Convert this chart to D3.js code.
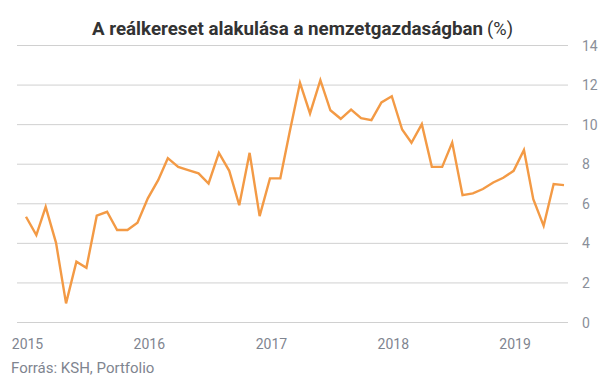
<!DOCTYPE html>
<html>
<head>
<meta charset="utf-8">
<script src="https://cdn.jsdelivr.net/npm/d3@7"></script>
<style>
  body { margin: 0; background: #fff; }
  text { font-family: Roboto, "Noto Sans", sans-serif; }
</style>
</head>
<body>
<div id="chart"></div>
<script>
// monthly real wage growth, Jan 2015 - Jun 2019
var firstMonth = "2015-01";
var values = [
  5.32, 4.39, 5.82, 4.0, 0.94, 3.05, 2.74, 5.37, 5.57, 4.65, 4.65, 5.02,
  6.25, 7.17, 8.28, 7.84, 7.68, 7.51, 7.0, 8.55, 7.64, 5.9, 8.55, 5.35,
  7.26, 7.26, 9.6, 12.09, 10.54, 12.22, 10.7, 10.27, 10.74, 10.3, 10.2, 11.1,
  11.41, 9.73, 9.06, 10.0, 7.84, 7.84, 9.07, 6.41, 6.5, 6.72, 7.05, 7.29,
  7.64, 8.69, 6.21, 4.86, 6.97, 6.92
];
var yTicks = [0, 2, 4, 6, 8, 10, 12, 14];
var yearTicks = ["2015", "2016", "2017", "2018", "2019"];
var title = "A reálkereset alakulása a nemzetgazdaságban";
var titleUnit = "(%)";
var source = "Forrás: KSH, Portfolio";

var width = 605, height = 378;
var parseMonth = d3.timeParse("%Y-%m");
var start = parseMonth(firstMonth);
var data = values.map(function(v, i) {
  return { date: d3.timeMonth.offset(start, i), value: v };
});

var svg = d3.select("#chart").append("svg")
  .attr("width", width)
  .attr("height", height);

var x = d3.scaleTime()
  .domain([start, data[data.length - 1].date])
  .range([26, 564]);

var y = d3.scaleLinear()
  .domain([0, 14])
  .range([322, 45]);

// gridlines
svg.append("g").attr("class", "grid")
  .selectAll("line").data(yTicks).enter().append("line")
  .attr("x1", 17).attr("x2", 568)
  .attr("y1", function(d) { return y(d) + 0.5; })
  .attr("y2", function(d) { return y(d) + 0.5; })
  .attr("stroke", "#d0d0d0")
  .attr("stroke-width", 1);

// right axis labels
var yAxis = d3.axisRight(y).tickValues(yTicks).tickSize(0).tickPadding(0);
svg.append("g")
  .attr("transform", "translate(582,0)")
  .call(yAxis)
  .call(function(g) { g.select(".domain").remove(); })
  .selectAll("text")
  .attr("fill", "#8a8f99")
  .attr("font-size", 14)
  .attr("dy", "0.36em");

// bottom year labels
var xAxis = d3.axisBottom(x)
  .tickValues(yearTicks.map(function(yr) { return d3.timeParse("%Y")(yr); }))
  .tickFormat(d3.timeFormat("%Y"))
  .tickSize(0).tickPadding(0);
svg.append("g")
  .attr("transform", "translate(1,349)")
  .call(xAxis)
  .call(function(g) { g.select(".domain").remove(); })
  .selectAll("text")
  .attr("fill", "#7f8590")
  .attr("font-size", 14)
  .attr("dy", 0);

// the line
var line = d3.line()
  .x(function(d) { return x(d.date); })
  .y(function(d) { return y(d.value); });

svg.append("path")
  .datum(data)
  .attr("d", line)
  .attr("fill", "none")
  .attr("stroke", "#f39a45")
  .attr("stroke-width", 2.4)
  .attr("stroke-linejoin", "miter");

// title: bold part squeezed to the condensed width, unit in regular weight
svg.append("text")
  .attr("x", 92).attr("y", 35)
  .attr("font-size", 19)
  .attr("font-weight", 700)
  .attr("fill", "#333")
  .attr("textLength", 391)
  .attr("lengthAdjust", "spacingAndGlyphs")
  .text(title);
svg.append("text")
  .attr("x", 487).attr("y", 35)
  .attr("font-size", 19)
  .attr("font-weight", 400)
  .attr("fill", "#333")
  .attr("textLength", 26)
  .attr("lengthAdjust", "spacingAndGlyphs")
  .text(titleUnit);

// source
svg.append("text")
  .attr("x", 11).attr("y", 373)
  .attr("font-size", 15)
  .attr("fill", "#7f8590")
  .text(source);
</script>
</body>
</html>
